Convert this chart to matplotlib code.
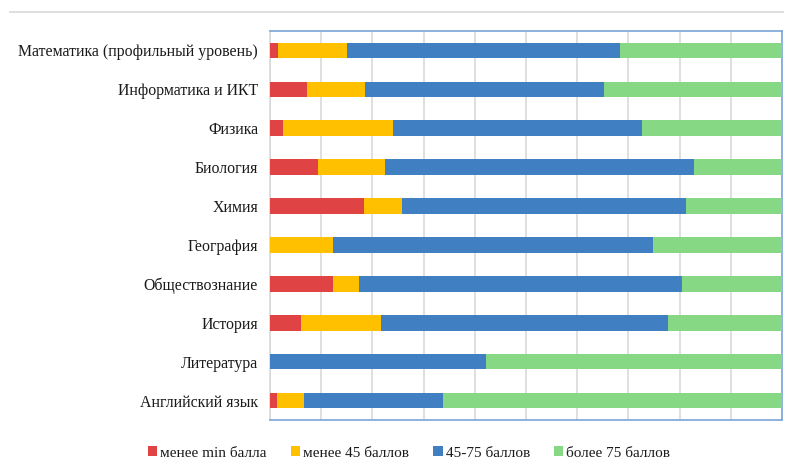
import matplotlib
matplotlib.use("Agg")
import matplotlib.pyplot as plt
from matplotlib.lines import Line2D

plt.rcParams['font.family'] = ['Liberation Serif', 'DejaVu Serif']

# subjects, top to bottom as shown
subjects = ["Математика (профильный уровень)", "Информатика и ИКТ", "Физика",
            "Биология", "Химия", "География", "Обществознание", "История",
            "Литература", "Английский язык"]

# shares in percent
below_min = [1.6, 7.3, 2.5, 9.3, 18.3, 0.0, 12.3, 6.0, 0.0, 1.4]
below_45 = [13.5, 11.2, 21.6, 13.1, 7.4, 12.3, 5.1, 15.6, 0.0, 5.2]
mid_45_75 = [53.3, 46.7, 48.6, 60.4, 55.5, 62.5, 63.0, 56.2, 42.1, 27.1]
above_75 = [31.6, 34.8, 27.3, 17.2, 18.8, 25.2, 19.6, 22.2, 57.9, 66.3]

series = [below_min, below_45, mid_45_75, above_75]
names = ["менее min балла", "менее 45 баллов", "45-75 баллов", "более 75 баллов"]
colors = ["#e04343", "#ffc000", "#4080c2", "#87d885"]

fig = plt.figure(figsize=(7.87, 4.70), dpi=100)
ax = fig.add_axes([270/787, 1 - 420/470, 512/787, 389/470])

ypos = list(range(len(subjects)))
left = [0.0] * len(subjects)
for vals, name, col in zip(series, names, colors):
    ax.barh(ypos, vals, left=left, height=0.4, color=col, label=name, zorder=3)
    left = [a + b for a, b in zip(left, vals)]

ax.set_xlim(0, 100)
ax.set_ylim(len(subjects) - 0.5, -0.5)
ax.set_yticks(ypos)
ax.set_yticklabels(subjects, fontsize=11.4, color="#1a1a1a")
ax.set_xticks(range(0, 101, 10))
ax.tick_params(axis="x", length=0, labelbottom=False)
ax.tick_params(axis="y", length=0, pad=8.5)
ax.grid(axis="x", color="#d9d9d9", linewidth=1.2, zorder=0)

for s in ["top", "right", "bottom"]:
    ax.spines[s].set_color("#7aa6d8")
    ax.spines[s].set_linewidth(1.2)
ax.spines["left"].set_color("#d9d9d9")
ax.spines["left"].set_linewidth(1.2)

# thin page line above the chart
fig.add_artist(Line2D([10/787, 783/787], [1 - 12/470, 1 - 12/470],
                      color="#d9d9d9", linewidth=1.2))

leg = fig.legend(loc="center", bbox_to_anchor=(409/787, 1 - 453/470), ncol=4,
                 frameon=False, fontsize=11, handlelength=0.6, handleheight=0.6,
                 handletextpad=0.2, columnspacing=1.6)
for t in leg.get_texts():
    t.set_color("#1a1a1a")

fig.savefig("out.png", dpi=100)
